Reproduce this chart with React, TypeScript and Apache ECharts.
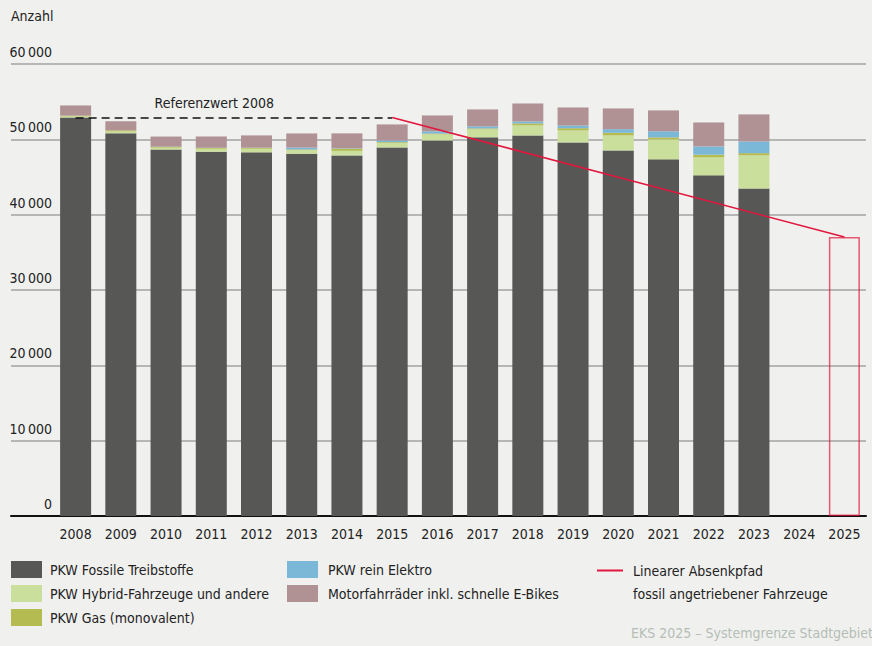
import React, { useEffect, useRef } from "react";
import * as echarts from "echarts";

const categories = ["2008", "2009", "2010", "2011", "2012", "2013", "2014", "2015", "2016", "2017", "2018", "2019", "2020", "2021", "2022", "2023", "2024", "2025"];
const fossil = [52900, 50800, 48650, 48350, 48270, 48100, 47870, 48930, 49860, 50260, 50520, 49590, 48530, 47340, 45220, 43490, null, null];
const hybrid = [150, 250, 250, 400, 480, 450, 600, 600, 800, 1060, 1330, 1590, 1990, 2650, 2390, 4380, null, null];
const gas = [100, 150, 100, 100, 100, 100, 300, 100, 100, 130, 260, 300, 350, 270, 350, 300, null, null];
const elektro = [0, 0, 20, 30, 40, 250, 50, 220, 300, 270, 260, 350, 480, 800, 1100, 1550, null, null];
const moto = [1350, 1200, 1350, 1500, 1630, 1880, 1970, 2130, 2110, 2250, 2390, 2400, 2750, 2780, 3180, 3590, null, null];
const target = [null, null, null, null, null, null, null, null, null, null, null, null, null, null, null, null, null, 37030];
const referenceValue = 52900;
const pathValues = [null, null, null, null, null, null, null, 52900, null, null, null, null, null, null, null, null, null, 37030];
const yTickLabels = ["0", "10\u2009000", "20\u2009000", "30\u2009000", "40\u2009000", "50\u2009000", "60\u2009000"];

const FONT = "'Liberation Sans Narrow', 'DejaVu Sans Condensed', Roboto, sans-serif";
const TXT = "#222222";
const RED = "#e2173d";
const FS = 14;

export default function App() {
  const ref = useRef<HTMLDivElement>(null);
  useEffect(() => {
    const chart = echarts.init(ref.current!, null, { renderer: "svg" });
    const barBase = { type: "bar", stack: "a", xAxisIndex: 1, yAxisIndex: 1, barWidth: 31 };
    chart.setOption({
      animation: false,
      backgroundColor: "#f0f0ef",
      textStyle: { fontFamily: FONT },
      title: [
        { text: "Anzahl", left: 11, top: 9, padding: 0, textStyle: { fontFamily: FONT, fontSize: FS, fontWeight: "normal", color: TXT } },
        { text: "EKS 2025 \u2013 Systemgrenze Stadtgebiet", right: -1, top: 626, padding: 0, textStyle: { fontFamily: FONT, fontSize: FS, fontWeight: "normal", color: "#b5beb5" } },
      ],
      grid: [
        { left: 11, right: 6, top: 64, bottom: 130 },
        { left: 53, right: 5, top: 64, bottom: 130 },
      ],
      xAxis: [
        { type: "value", gridIndex: 0, min: 0, max: 1, axisLabel: { show: false }, axisTick: { show: false }, splitLine: { show: false }, axisLine: { show: true, lineStyle: { color: "#111", width: 2 } } },
        { type: "category", gridIndex: 1, data: categories, axisLine: { show: false }, axisTick: { show: false }, axisLabel: { margin: 11, fontSize: FS, color: TXT, fontFamily: FONT } },
      ],
      yAxis: [
        {
          type: "value", gridIndex: 0, min: 0, max: 60000, interval: 10000,
          axisLine: { show: false }, axisTick: { show: false },
          splitLine: { show: true, lineStyle: { color: "#a3a3a3", width: 1.5 } },
          axisLabel: { inside: true, margin: 41, align: "right", verticalAlign: "bottom", padding: [0, 0, 5, 0], fontSize: FS, color: TXT, fontFamily: FONT, formatter: (v: number) => yTickLabels[Math.round(v / 10000)] },
        },
        { type: "value", gridIndex: 1, min: 0, max: 60000, interval: 10000, show: false },
      ],
      legend: [
        {
          left: 11, top: 561, padding: 0, orient: "vertical", itemWidth: 31, itemHeight: 17, itemGap: 7, icon: "rect",
          textStyle: { fontSize: FS, color: TXT, fontFamily: FONT, padding: [0, 0, 0, 3] },
          data: ["PKW Fossile Treibstoffe", "PKW Hybrid-Fahrzeuge und andere", "PKW Gas (monovalent)"],
          selectedMode: false,
        },
        {
          left: 287, top: 561, padding: 0, orient: "vertical", itemWidth: 31, itemHeight: 17, itemGap: 7, icon: "rect",
          textStyle: { fontSize: FS, color: TXT, fontFamily: FONT, padding: [0, 0, 0, 5] },
          data: ["PKW rein Elektro", "Motorfahrr\u00e4der inkl. schnelle E-Bikes"],
          selectedMode: false,
        },
        {
          left: 597, top: 536, padding: 0, orient: "vertical", itemWidth: 26, itemHeight: 2,
          textStyle: { fontSize: FS, color: TXT, fontFamily: FONT, lineHeight: 23, padding: [0, 0, 0, 5] },
          formatter: (n: string) => "\n" + n,
          data: [{ name: "Linearer Absenkpfad\nfossil angetriebener Fahrzeuge", icon: "path://M0,0H26V2H0Z" }],
          selectedMode: false,
        },
      ],
      series: [
        { ...barBase, name: "PKW Fossile Treibstoffe", data: fossil, itemStyle: { color: "#575756" } },
        { ...barBase, name: "PKW Hybrid-Fahrzeuge und andere", data: hybrid, itemStyle: { color: "#cbdf9d" } },
        { ...barBase, name: "PKW Gas (monovalent)", data: gas, itemStyle: { color: "#b4bb51" } },
        { ...barBase, name: "PKW rein Elektro", data: elektro, itemStyle: { color: "#7bb8d7" } },
        { ...barBase, name: "Motorfahrr\u00e4der inkl. schnelle E-Bikes", data: moto, itemStyle: { color: "#b09294" } },
        { ...barBase, name: "Zielwert 2025", data: target, itemStyle: { color: "rgba(0,0,0,0)", borderColor: "rgba(226,23,61,0.7)", borderWidth: 1.5 } },
        {
          type: "line", name: "Linearer Absenkpfad\nfossil angetriebener Fahrzeuge", xAxisIndex: 1, yAxisIndex: 1,
          data: pathValues, connectNulls: true, symbol: "none", z: 5,
          lineStyle: { color: RED, width: 1.6 }, itemStyle: { color: RED },
          markLine: {
            silent: true, symbol: "none",
            lineStyle: { color: "#111", type: [8, 5], width: 1.5 },
            label: { show: true, position: "insideStartTop", formatter: "Referenzwert 2008", distance: 7, padding: [0, 0, 0, 72], fontSize: FS, color: TXT, fontFamily: FONT },
            data: [[{ coord: [categories[0], referenceValue] }, { coord: [categories[7], referenceValue] }]],
          },
        },
      ],
    });
    return () => chart.dispose();
  }, []);
  return <div ref={ref} style={{ position: "fixed", left: 0, top: 0, width: 872, height: 646 }} />;
}
